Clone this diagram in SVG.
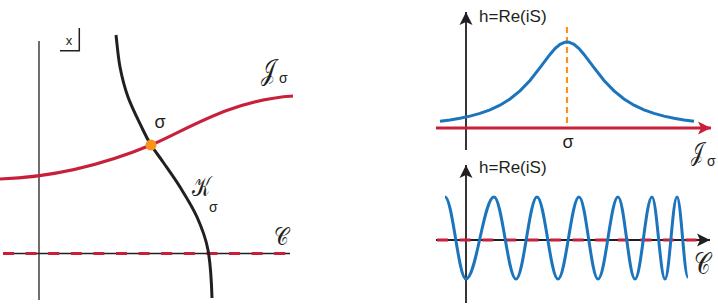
<svg xmlns="http://www.w3.org/2000/svg" width="718" height="307" viewBox="0 0 718 307">
<style>
.ax{stroke:#231f20;stroke-width:1.3;fill:none}
.axr{stroke:#231f20;stroke-width:1.8;fill:none}
.red{stroke:#c8203a;stroke-width:3;fill:none}
.redd{stroke:#c8203a;stroke-width:3;fill:none;stroke-dasharray:11 11.6}
.blk{stroke:#231f20;stroke-width:3;fill:none}
.blue{stroke:#1c75bc;stroke-width:3;fill:none}
.org{stroke:#f7941d;stroke-width:2.2;fill:none;stroke-dasharray:6 4}
.t{font-family:"Liberation Sans",Arial,sans-serif;fill:#231f20}
.s{font-family:"DejaVu Sans","Noto Sans","Liberation Serif",serif;fill:#231f20}
</style>
<defs>
<marker id="ab" viewBox="-14 -8 16 16" refX="0" refY="0" markerWidth="16" markerHeight="16" markerUnits="userSpaceOnUse" orient="auto"><path d="M0,0 L-13,-6.5 L-10,0 L-13,6.5 Z" fill="#231f20"/></marker>
<marker id="ar" viewBox="-14 -8 16 16" refX="0" refY="0" markerWidth="16" markerHeight="16" markerUnits="userSpaceOnUse" orient="auto"><path d="M0,0 L-13,-6.5 L-10,0 L-13,6.5 Z" fill="#c8203a"/></marker>
</defs>
<g id="left-panel">
<line class="ax" x1="39" y1="41" x2="39" y2="300"/>
<line class="ax" x1="3" y1="253.5" x2="290" y2="253.5"/>
<line class="redd" x1="3" y1="253.5" x2="290" y2="253.5"/>
<g id="x-label">
<polyline points="60,50.7 79.3,50.7 79.3,28" stroke="#231f20" stroke-width="1.5" fill="none"/>
<text class="t" x="69" y="44.5" font-size="13" text-anchor="middle">x</text>
</g>
<path id="J-curve" class="red" d="M0,179 C60,177 110,162 151,145 C185,131 230,100 293,96"/>
<path id="K-curve" class="blk" d="M116,35 C117.3,45.7 118,56.7 120,67 C122,77.3 124.2,86.5 128,97 C131.8,107.5 139.2,122 143,130 C146.8,138 147.7,139.7 151,145 C154.3,150.3 158.2,155 163,162 C167.8,169 174.3,177.8 180,187 C185.7,196.2 192.3,206.5 197,217 C201.7,227.5 205.5,236.5 208,250 C210.5,263.5 211.5,282 212,298"/>
<circle id="sigma-point" cx="151" cy="145" r="5.5" fill="#f7941d"/>
<text class="t" x="160" y="128" font-size="18" text-anchor="middle">σ</text>
<g id="J-label"><text class="s" transform="translate(261,80) scale(0.72,1)" font-size="29">𝒥</text><text class="t" x="279" y="83" font-size="14">σ</text></g>
<g id="K-label"><text class="s" transform="translate(192,196) scale(0.72,1)" font-size="27">𝒦</text><text class="t" x="209" y="212" font-size="14">σ</text></g>
<g id="C-label"><text class="s" transform="translate(274,245) scale(0.8,1)" font-size="25">𝒞</text></g>
</g>
<g id="top-right-panel">
<line class="axr" x1="466" y1="150" x2="466" y2="12" marker-end="url(#ab)"/>
<text class="t" x="479" y="22" font-size="17">h=Re(iS)</text>
<line class="org" x1="567" y1="27" x2="567" y2="128"/>
<line class="red" x1="436" y1="128" x2="711" y2="128" marker-end="url(#ar)"/>
<polyline class="blue" points="440,121.3 450,120 460,118.3 470,116.1 480,113.4 490,109.8 500,105.2 510,99 520,90.9 530,80.5 540,67.7 550,54.4 555,48.6 560,44.4 565,42.2 567,42 569,42.2 574,44.4 579,48.6 584,54.4 594,67.7 604,80.5 614,90.9 624,99 634,105.2 644,109.8 654,113.4 664,116.1 674,118.3 684,120 694,121.3"/>
<text class="t" x="568" y="148" font-size="18" text-anchor="middle">σ</text>
<g id="J-label-2"><text class="s" transform="translate(691,160) scale(0.72,1)" font-size="25">𝒥</text><text class="t" x="707" y="166" font-size="14">σ</text></g>
</g>
<g id="bottom-right-panel">
<line class="axr" x1="466" y1="303" x2="466" y2="165" marker-end="url(#ab)"/>
<text class="t" x="479" y="173" font-size="17">h=Re(iS)</text>
<line class="axr" x1="436" y1="240" x2="710" y2="240" marker-end="url(#ab)"/>
<line class="redd" x1="437" y1="240" x2="698" y2="240"/>
<path class="blue" d="M445,197 C452.6,197 458.4,279 466,279 C476.2,279 483.8,197 494,197 C502,197 508,279 516,279 C523.6,279 529.4,197 537,197 C544.6,197 550.4,279 558,279 C565.6,279 571.4,197 579,197 C585.9,197 591.1,279 598,279 C605.3,279 610.7,197 618,197 C624.2,197 628.8,279 635,279 C641.2,279 645.8,197 652,197 C656.7,197 660.3,279 665,279 C669.4,279 672.6,197 677,197 C681,197 684,277 688,277"/>
<g id="C-label-2"><text class="s" transform="translate(694,274) scale(0.75,1)" font-size="30">𝒞</text></g>
</g>
</svg>
